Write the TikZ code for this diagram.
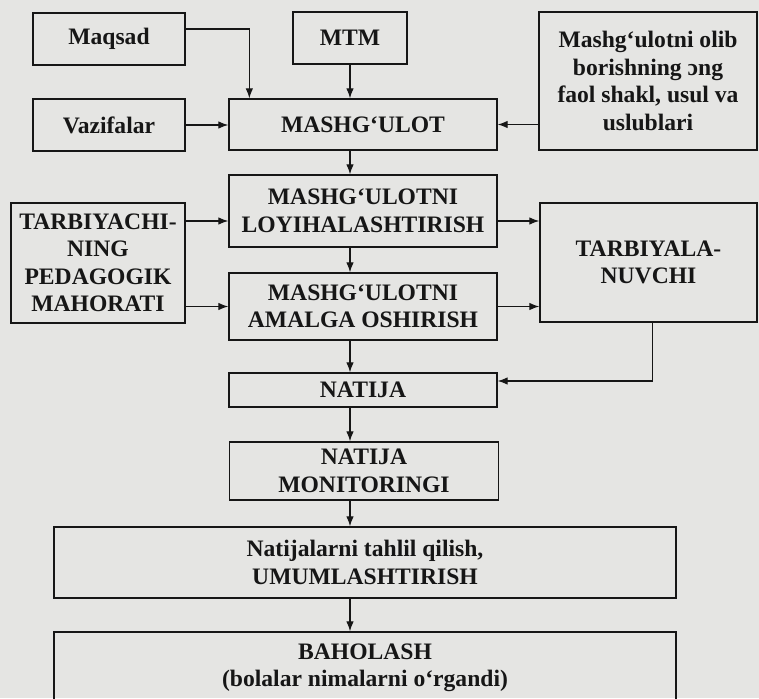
\documentclass[tikz,border=0pt]{standalone}
\usepackage{fontspec}
\setmainfont{Liberation Serif}
\usepackage{tikz}
\usetikzlibrary{arrows.meta}
\definecolor{qogoz}{RGB}{229,229,227}
\definecolor{siyoh}{RGB}{22,22,22}

\begin{document}
\begin{tikzpicture}[x=1pt,y=-1pt,
  blok/.style={draw=siyoh,line width=1.3pt,inner sep=0pt,align=center,text=siyoh,
    font=\fontsize{23.6}{27.5}\selectfont\bfseries},
  oq/.style={draw=siyoh,line width=1.2pt,-{Latex[length=10pt,width=7.5pt]}}]
\useasboundingbox (0,0) rectangle (759,698);
\fill[color=qogoz] (0,0) rectangle (759,698);
% Drawing boxes
% Box 1: Maqsad
\node[blok,minimum width=152pt,minimum height=52pt] (maqsad) at (109,39) {Maqsad};
% Box 2: MTM
\node[blok,minimum width=114pt,minimum height=52pt] (mtm) at (350,38) {MTM};
% Box 3: shakl, usul va uslublar
\node[blok,minimum width=218pt,minimum height=138pt] (usul) at (648,81)
  {Mashg‘ulotni olib\\ borishning ɔng\\ faol shakl, usul va\\ uslublari};
% Box 4: Vazifalar
\node[blok,minimum width=152pt,minimum height=52pt] (vazifa) at (109,125) {Vazifalar};
% Box 5: MASHG'ULOT
\node[blok,minimum width=268pt,minimum height=51pt] (mashg) at (363,124.5) {MASHG‘ULOT};
% Box 6: loyihalashtirish
\node[blok,minimum width=268pt,minimum height=72pt] (loyiha) at (363,211)
  {MASHG‘ULOTNI\\ LOYIHALASHTIRISH};
% Box 7: tarbiyachi mahorati
\node[blok,minimum width=174pt,minimum height=120pt] (tarbiyachi) at (98,263)
  {TARBIYACHI-\\ NING\\ PEDAGOGIK\\ MAHORATI};
% Box 8: amalga oshirish
\node[blok,minimum width=268pt,minimum height=67pt] (amalga) at (363,306.5)
  {MASHG‘ULOTNI\\ AMALGA OSHIRISH};
% Box 9: tarbiyalanuvchi
\node[blok,minimum width=217pt,minimum height=119pt] (tarbiyalanuvchi) at (648.5,262.5)
  {TARBIYALA-\\ NUVCHI};
% Box 10: NATIJA
\node[blok,minimum width=268pt,minimum height=34pt] (natija) at (363,390) {NATIJA};
% Box 11: monitoring
\node[blok,minimum width=269pt,minimum height=58pt] (monitoring) at (364,471)
  {NATIJA\\ MONITORINGI};
% Box 12: tahlil
\node[blok,minimum width=622pt,minimum height=71pt] (tahlil) at (365,562.5)
  {Natijalarni tahlil qilish,\\ UMUMLASHTIRISH};
% Box 13: BAHOLASH (cut by page edge)
\node[blok,minimum width=622pt,minimum height=72pt] (baholash) at (365,668)
  {BAHOLASH\\ (bolalar nimalarni o‘rgandi)};
% Done with boxes; drawing arrows
\coordinate (maqsadchiqish) at ([yshift=10pt]maqsad.east);
\coordinate (loyihakirish) at ([yshift=-10pt]loyiha.west);
\coordinate (natijakirish) at ([yshift=9pt]natija.east);
\coordinate (tarbiyalanuvchichiqish) at ([xshift=4pt]tarbiyalanuvchi.south);
% Top row into MASHG'ULOT
\draw[oq] (maqsadchiqish) -| ([xshift=21pt]mashg.north west);
\draw[oq] (mtm.south) -- (mtm.south |- mashg.north);
\draw[oq] (vazifa.east) -- (vazifa.east -| mashg.west);
\draw[oq] (mashg.east -| usul.west) -- (mashg.east);
% Middle column
\draw[oq] (mashg.south -| mtm.south) -- (loyiha.north -| mtm.south);
\draw[oq] (loyiha.south -| mtm.south) -- (amalga.north -| mtm.south);
\draw[oq] (amalga.south -| mtm.south) -- (natija.north -| mtm.south);
\draw[oq] (natija.south -| mtm.south) -- (monitoring.north -| mtm.south);
\draw[oq] (monitoring.south -| mtm.south) -- (tahlil.north -| mtm.south);
\draw[oq] (tahlil.south -| mtm.south) -- (baholash.north -| mtm.south);
% Side boxes
\draw[oq] (loyihakirish -| tarbiyachi.east) -- (loyihakirish);
\draw[oq] (amalga.west -| tarbiyachi.east) -- (amalga.west);
\draw[oq] (loyihakirish -| loyiha.east) -- (loyihakirish -| tarbiyalanuvchi.west);
\draw[oq] (amalga.east) -- (amalga.east -| tarbiyalanuvchi.west);
\draw[oq] (tarbiyalanuvchichiqish) |- (natijakirish);
% Done with arrows
\end{tikzpicture}
\end{document}
